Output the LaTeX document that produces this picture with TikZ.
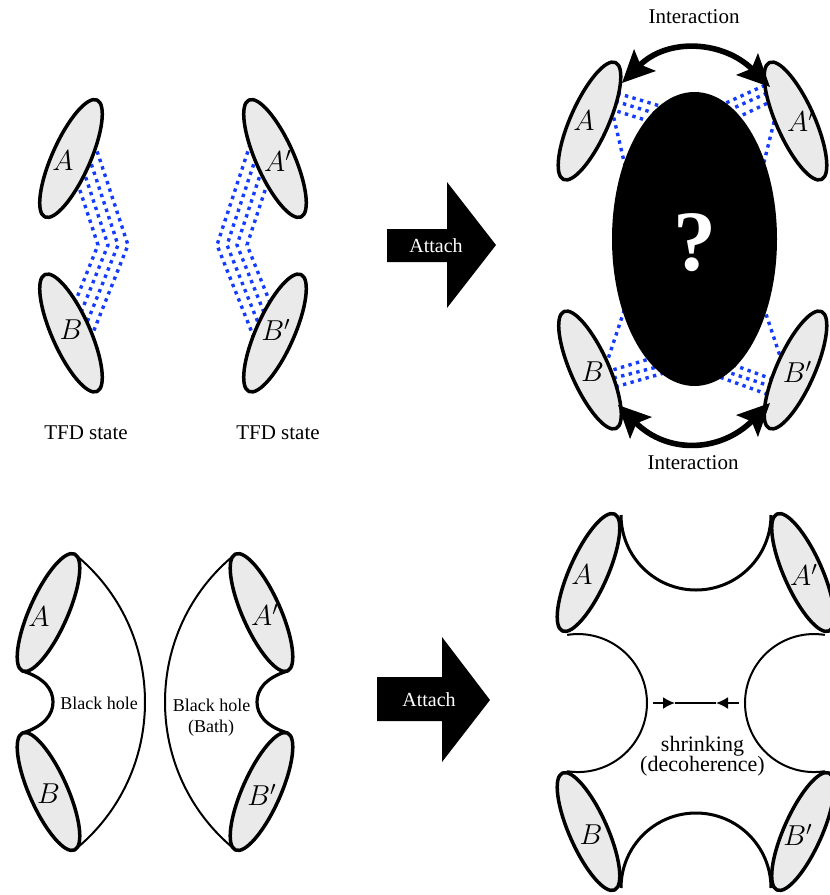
\documentclass[tikz,border=0pt]{standalone}
\usepackage{fontspec}
\setmainfont{Liberation Serif}
\usetikzlibrary{arrows.meta,shapes.geometric}
\definecolor{ellgray}{RGB}{234,234,234}
\definecolor{dotblue}{RGB}{20,60,255}
\tikzset{
  ell/.style={ellipse, draw, line width=1.75pt, fill=ellgray, minimum width=64pt, minimum height=19pt, inner sep=0pt},
  lbl/.style={inner sep=0pt, font=\Large},
  ent/.style={draw=dotblue, line width=1.7pt, dash pattern=on 1.7pt off 2.2pt},
  txt/.style={inner sep=0pt, font=\fontsize{10.5}{12}\selectfont},
  smalltxt/.style={inner sep=0pt, font=\fontsize{9}{11}\selectfont},
  midtxt/.style={inner sep=0pt, font=\fontsize{11}{13}\selectfont},
  attxt/.style={inner sep=0pt, text=white, font=\fontsize{10}{12}\selectfont},
  inter/.style={line width=2.8pt, {Stealth[length=16pt,width=15pt,inset=3pt]}-{Stealth[length=16pt,width=15pt,inset=3pt]}},
  thinl/.style={line width=1pt},
  medl/.style={line width=1.5pt},
  thickl/.style={line width=1.6pt},
  tip/.style={-{Latex[length=6pt,width=6pt]}},
}
\begin{document}
\begin{tikzpicture}[x=0.5pt,y=-0.5pt]
\useasboundingbox (0,0) rectangle (830,895);

% ---------- TFD states (top left) ----------
\foreach \k/\ax/\ay/\bx/\by in {128/87.4/121.8/82.5/359, 118/81.6/134.6/77.2/347, 108/75.9/147.5/72/335, 98/70.1/160.4/66.7/323.3} {
  \draw[ent] (\ax,\ay) -- (\k,245) -- (\bx,\by);
  \draw[ent] ({345-\ax},\ay) -- ({345-\k},245) -- ({345-\bx},\by);
}
\node[ell,rotate=66]  (fA)  at (71,158.5) {};
\node[ell,rotate=-66] (fB)  at (71,333) {};
\node[ell,rotate=-66] (fA2) at (275,158.5) {};
\node[ell,rotate=66]  (fB2) at (275,333) {};
\node[lbl] (lfA)  at (63,161) {$A$};
\node[lbl] (lfB)  at (71,330) {$B$};
\node[lbl] (lfA2) at (278,161) {$A'$};
\node[lbl] (lfB2) at (276,330) {$B'$};
\node[txt] (tfd1) at (86,433) {TFD state};
\node[txt] (tfd2) at (278,433) {TFD state};

% ---------- Attach arrows ----------
\fill (387,229) -- (447,229) -- (447,182) -- (496,245) -- (447,308) -- (447,262) -- (387,262) -- cycle;
\node[attxt] (at1) at (436,245.5) {Attach};
\fill (377,677) -- (442,677) -- (442,637) -- (490,700) -- (442,762) -- (442,721) -- (377,721) -- cycle;
\node[attxt] (at2) at (429,700) {Attach};

% ---------- Top right ----------
\draw[ent] (610,91) -- (700,118);
\draw[ent] (608,99) -- (700,127);
\draw[ent] (610,109) -- (700,137);
\draw[ent] (612,110) -- (640,230);
\draw[ent] (772,82) -- (705,112.5);
\draw[ent] (774,90) -- (705,120.7);
\draw[ent] (774,100) -- (705,133);
\draw[ent] (776,114) -- (752,210);
\draw[ent] (606,372) -- (700,343.7);
\draw[ent] (606,380) -- (700,356);
\draw[ent] (608,389) -- (700,362.7);
\draw[ent] (606,365) -- (640,263);
\draw[ent] (780,382) -- (700,352.7);
\draw[ent] (779,389) -- (700,363);
\draw[ent] (775,397) -- (700,370);
\draw[ent] (782,362) -- (748,260);
\node[ellipse, fill=black, minimum width=82.5pt, minimum height=147pt, inner sep=0pt] (bh) at (694.5,239) {};
\node[inner sep=0pt, text=white, font=\fontsize{43}{43}\selectfont\bfseries] (q) at (695,242.5) {?};
\node[ell,rotate=66]  (tA)  at (589.5,121) {};
\node[ell,rotate=-66] (tA2) at (795.5,121) {};
\node[ell,rotate=-66] (tB)  at (590,370) {};
\node[ell,rotate=66]  (tB2) at (795.5,370) {};
\node[lbl] (ltA)  at (584,121) {$A$};
\node[lbl] (ltA2) at (801,121) {$A'$};
\node[lbl] (ltB)  at (592.5,372) {$B$};
\node[lbl] (ltB2) at (797.5,372) {$B'$};
\coordinate (i1) at (622,83);
\coordinate (i2) at (770,87);
\coordinate (i3) at (618,405);
\coordinate (i4) at (770,403);
\draw[inter] (i1) .. controls (668,37) and (724,41) .. (i2);
\draw[inter] (i3) .. controls (667.5,454.5) and (720.5,452.5) .. (i4);
\node[txt] (int1) at (694,16.5) {Interaction};
\node[txt] (int2) at (693,463) {Interaction};

% ---------- Bottom left ----------
\draw[thinl] (74.5,554) .. controls (168.5,630) and (168.5,774) .. (74.5,850);
\draw[thickl] (22.5,671) .. controls (45,678) and (53,690) .. (53,702) .. controls (53,714) and (45,726) .. (22.5,733);
\draw[thinl] (235.5,554) .. controls (141.5,630) and (141.5,774) .. (235.5,850);
\draw[thickl] (287.5,671) .. controls (265,678) and (257,690) .. (257,702) .. controls (257,714) and (265,726) .. (287.5,733);
\node[ell,rotate=66]  (bA)  at (48.5,612.5) {};
\node[ell,rotate=-66] (bB)  at (48.5,791.5) {};
\node[ell,rotate=-66] (bA2) at (261.5,612.5) {};
\node[ell,rotate=66]  (bB2) at (261.5,791.5) {};
\node[lbl] (lbA)  at (39,617) {$A$};
\node[lbl] (lbB)  at (48.5,794) {$B$};
\node[lbl] (lbA2) at (265,615) {$A'$};
\node[lbl] (lbB2) at (262,795) {$B'$};
\node[smalltxt] (bh1) at (99,703.3) {Black hole};
\node[smalltxt] (bh2) at (211.5,705) {Black hole};
\node[smalltxt] (bh3) at (211,728.3) {(Bath)};

% ---------- Bottom right ----------
\draw[medl] (621,515) arc[start angle=180, end angle=360, radius=37.5pt];
\draw[medl] (621,888) arc[start angle=180, end angle=0, radius=37.5pt];
\draw[thinl] (567.2,634.9) arc[start angle=99, end angle=-99, radius=34.5pt];
\draw[thinl] (824.8,634.9) arc[start angle=81, end angle=279, radius=34.5pt];
\node[ell,rotate=66]  (rA)  at (588.5,572.5) {};
\node[ell,rotate=-66] (rA2) at (803,572.5) {};
\node[ell,rotate=-66] (rB)  at (588.5,831.5) {};
\node[ell,rotate=66]  (rB2) at (803,831.5) {};
\node[lbl] (lrA)  at (582,575) {$A$};
\node[lbl] (lrA2) at (804,575) {$A'$};
\node[lbl] (lrB)  at (591,835) {$B$};
\node[lbl] (lrB2) at (798,835) {$B'$};
\coordinate (s1) at (653,703);
\coordinate (m1) at (675,703);
\coordinate (m2) at (716,703);
\coordinate (s2) at (739,703);
\draw[thinl,tip] (s1) -- (m1);
\draw[thinl] (m1) -- (m2);
\draw[thinl,tip] (s2) -- (m2);
\node[midtxt] (shr) at (702.5,745.8) {shrinking};
\node[midtxt] (dec) at (702.5,766.5) {(decoherence)};
\end{tikzpicture}
\end{document}
